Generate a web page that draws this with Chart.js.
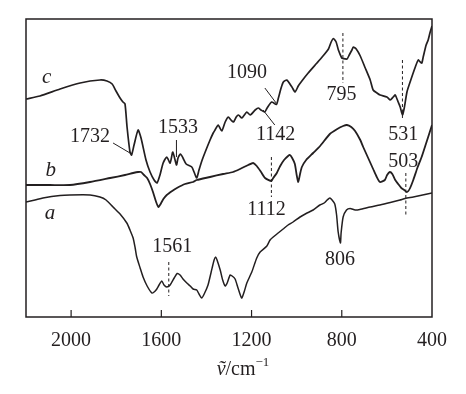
<!DOCTYPE html>
<html>
<head>
<meta charset="utf-8">
<script src="https://cdn.jsdelivr.net/npm/chart.js@4.4.1/dist/chart.umd.min.js"></script>
<style>
  html, body { margin: 0; padding: 0; background: #fff; }
  #wrap { width: 466px; height: 394px; }
</style>
</head>
<body>
<div id="wrap"><canvas id="irChart"></canvas></div>
<script>
// wavenumber axis (cm-1), tick labels
const xTicks = [2000, 1600, 1200, 800, 400];
const innerTicks = [2000, 1600, 1200, 800];

// curve a
const wnA = [2200,2160,2125,2049,2005,1916,1872,1845,1814,1783,1753,1739,1725,1716,1709,1694,1681,1663,1642,1632,
  1620,1610,1598,1588,1576,1561,1543,1530,1517,1504,1487,1472,1459,1443,1433,1421,1410,1393,1379,1366,
  1359,1353,1339,1328,1317,1308,1295,1286,1273,1260,1244,1233,1221,1199,1177,1162,1132,1118,1104,1082,
  1060,1038,1016,985,958,927,897,878,865,853,843,831,823,816,806,803,794,779,763,741,
  720,674,631,585,542,519,483,452,400];
const tA = [115,117,119,121.5,122,122,120,117,110,103,94,87,79,69,60,49,40,31,24,25,
  28,32,36,32,30,32,39,43.5,42,38,34,31,28,27,23,19,23,32,45,57,
  60,57,47,37,31,34,42,41,38,29,19,25,34,45,59,65,71,77,80,84,
  88,92,95,100,103.5,107,112,114,117,119,117,113,102,85,74,84,100,107,108.5,107,
  107.5,110,112,114.5,117,118.5,120,121.5,124];

// curve b
const wnB = [2200,2094,2005,1916,1827,1761,1725,1703,1690,1677,1663,1650,1637,1623,1613,1606,1591,1576,1552,1531,
  1495,1459,1443,1384,1326,1282,1251,1215,1193,1177,1158,1140,1112,1104,1088,1073,1056,1038,1030,1020,
  1008,1000,993,985,977,958,927,896,853,820,794,777,758,741,718,705,683,661,647,631,
  609,599,587,576,563,550,536,523,513,505,497,483,465,446,430,417,400];
const tB = [132,132,132,135,139,142,144,145,145,142,139,133,125,115,110,112,118,122,126,129,
  133,135,137,140,143,145,148,152,154,151,145,139,136,139,144,151,157,161,162,159,
  153,142,135,143,150,157,164,171,183,188,191,192,190,186,177,170,159,148,141,135,
  137,142,145,143,137,133,129,127,125,126,129,137,149,160,171,180,192];

// curve c
const wnC = [2200,2138,2049,1960,1872,1841,1818,1801,1783,1770,1761,1752,1739,1732,1721,1703,1690,1668,1650,1632,
  1619,1606,1592,1576,1561,1549,1533,1526,1515,1504,1490,1465,1455,1443,1433,1419,1402,1384,1370,1362,
  1348,1332,1317,1303,1291,1280,1268,1258,1243,1221,1206,1184,1170,1158,1142,1131,1111,1090,1081,1069,
  1059,1044,1021,1007,993,977,949,910,887,859,847,837,825,815,800,795,777,767,755,749,
  736,718,696,674,661,644,630,600,585,572,563,550,541,531,523,511,497,474,461,452,
  445,439,426,417,408,400];
const tC = [218,221,228,234,237,236,233,226,219,215,213,190,165,162,172,187,179,157,145,137,
  134,142,154,160,154,165,152,159,163,159,153,150,145,139,147,157,167,177,184,187,
  192,186,195,200,197,195,200,202,199,205,202,207,209,207,205,209,215,212.5,219,229,
  235,237,230,225,231,236,244,254,260,268,275,278.5,275,267,259,258.5,258,262,267,270,
  268,261,249,237,227,224,222,220,217,220,222,215,210,202,209,225,235,250,257,255,
  254,260,272,277,285,291];

const INK = '#231f20';
const SERIF = '"Liberation Serif", "Times New Roman", serif';

// peak labels: text position and leader line, in data units
const markers = [
  { label: '1732', at: [1916, 180], from: [1814, 174], to: [1739, 164], dashed: false },
  { label: '1533', at: [1526, 189], from: [1533, 177], to: [1533, 160], dashed: false },
  { label: '1090', at: [1220, 244], from: [1141, 229], to: [1091, 214], dashed: false },
  { label: '1142', at: [1093, 182], from: [1097, 192], to: [1149, 207], dashed: false },
  { label: '795',  at: [801, 222],  from: [795, 284],  to: [795, 234],  dashed: true },
  { label: '531',  at: [528, 182],  from: [531, 257],  to: [531, 197],  dashed: true },
  { label: '503',  at: [528, 155],  from: [516, 144],  to: [516, 100],  dashed: true },
  { label: '1112', at: [1134, 107], from: [1112, 160], to: [1112, 120], dashed: true },
  { label: '1561', at: [1552, 70],  from: [1567, 55],  to: [1567, 21],  dashed: true },
  { label: '806',  at: [808, 57] }
];

const curveNames = [
  { label: 'c', at: [2108, 240] },
  { label: 'b', at: [2090, 147] },
  { label: 'a', at: [2094, 104] }
];

const toPoints = (wn, t) => wn.map((w, i) => ({ x: w, y: t[i] }));

const lineStyle = (data, width) => ({
  data: data,
  borderColor: INK,
  borderWidth: width,
  pointRadius: 0,
  tension: 0.2,
  fill: false
});

// frame, inside ticks, labels and axis title
const decorPlugin = {
  id: 'decor',
  afterDatasetsDraw(chart) {
    const { ctx, chartArea: area, scales } = chart;
    const px = v => scales.x.getPixelForValue(v);
    const py = v => scales.y.getPixelForValue(v);

    ctx.save();
    ctx.strokeStyle = INK;
    ctx.fillStyle = INK;

    // box
    ctx.lineWidth = 1.5;
    ctx.strokeRect(area.left, area.top, area.right - area.left, area.bottom - area.top);

    // ticks pointing in
    ctx.lineWidth = 1.2;
    innerTicks.forEach(v => {
      ctx.beginPath();
      ctx.moveTo(px(v), area.bottom);
      ctx.lineTo(px(v), area.bottom - 7);
      ctx.stroke();
    });

    // peak markers
    ctx.font = '20px ' + SERIF;
    ctx.textAlign = 'center';
    ctx.textBaseline = 'middle';
    markers.forEach(m => {
      ctx.fillText(m.label, px(m.at[0]), py(m.at[1]));
      if (!m.from) return;
      ctx.lineWidth = 1;
      ctx.setLineDash(m.dashed ? [3, 2.5] : []);
      ctx.beginPath();
      ctx.moveTo(px(m.from[0]), py(m.from[1]));
      ctx.lineTo(px(m.to[0]), py(m.to[1]));
      ctx.stroke();
    });
    ctx.setLineDash([]);

    // curve names
    ctx.font = 'italic 21px ' + SERIF;
    curveNames.forEach(c => ctx.fillText(c.label, px(c.at[0]), py(c.at[1])));

    // axis title: v-tilde / cm^-1
    const base = area.bottom + 58;
    const cx = (area.left + area.right) / 2 + 14;
    ctx.textAlign = 'left';
    ctx.textBaseline = 'alphabetic';
    const parts = [
      { t: 'ṽ', f: 'italic 20px ' + SERIF, dy: 0 },
      { t: '/cm', f: '20px ' + SERIF, dy: 0 },
      { t: '−1', f: '13px ' + SERIF, dy: -9 }
    ];
    let total = 0;
    parts.forEach(p => { ctx.font = p.f; p.w = ctx.measureText(p.t).width; total += p.w; });
    let x = cx - total / 2;
    parts.forEach(p => {
      ctx.font = p.f;
      ctx.fillText(p.t, x, base + p.dy);
      x += p.w;
    });
    ctx.restore();
  }
};

new Chart(document.getElementById('irChart'), {
  type: 'line',
  data: {
    datasets: [
      lineStyle(toPoints(wnA, tA), 1.5),
      lineStyle(toPoints(wnB, tB), 1.8),
      lineStyle(toPoints(wnC, tC), 1.7)
    ]
  },
  options: {
    responsive: true,
    maintainAspectRatio: false,
    animation: false,
    layout: { padding: { left: 26, top: 19, right: 34, bottom: 0 } },
    plugins: {
      legend: { display: false },
      tooltip: { enabled: false }
    },
    scales: {
      x: {
        type: 'linear',
        reverse: true,
        min: 400,
        max: 2200,
        afterBuildTicks: scale => { scale.ticks = xTicks.map(v => ({ value: v })); },
        afterFit: scale => { scale.height = 77; },
        border: { display: false },
        grid: { display: false, drawTicks: false },
        ticks: {
          autoSkip: false,
          maxRotation: 0,
          padding: 12,
          color: INK,
          font: { family: SERIF, size: 20 },
          callback: v => String(v)
        }
      },
      y: {
        display: false,
        min: 0,
        max: 298
      }
    }
  },
  plugins: [decorPlugin]
});
</script>
</body>
</html>
